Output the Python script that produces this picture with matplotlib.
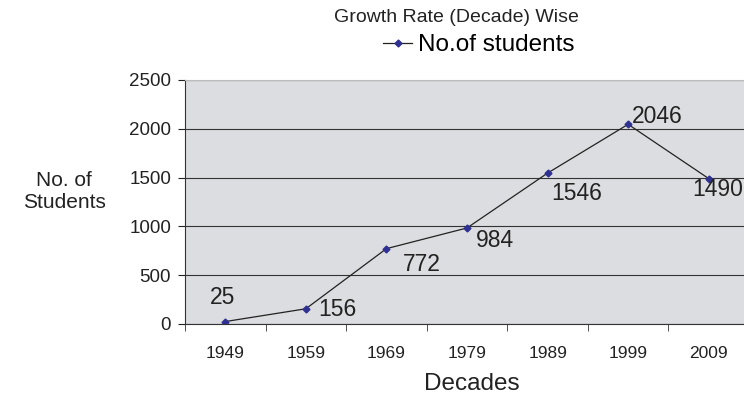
import matplotlib.pyplot as plt
import numpy as np

plt.rcParams['font.family'] = ['Liberation Sans', 'DejaVu Sans']

decades = ['1949', '1959', '1969', '1979', '1989', '1999', '2009']
students = [25, 156, 772, 984, 1546, 2046, 1490]

# label offsets in pixels (dx, dy) and horizontal alignment
label_pos = [(-3, 24, 'center'), (12, -1, 'left'), (16, -16, 'left'), (9, -13, 'left'),
             (4, -20, 'left'), (4, 8, 'left'), (-16, -11, 'left')]

fig = plt.figure(figsize=(7.44, 3.98), dpi=100)
ax = fig.add_axes([185 / 744, 74 / 398, 564 / 744, 244 / 398])
ax.set_facecolor('#DCDDE0')

x = np.arange(len(decades))
line, = ax.plot(x, students, color='#222222', linewidth=0.9, marker='D', markersize=3.5,
                markerfacecolor='#2E3192', markeredgecolor='#2E3192', label='No.of students')

for xi, v, (dx, dy, ha) in zip(x, students, label_pos):
    ax.annotate(str(v), (xi, v), xytext=(dx, dy), textcoords='offset pixels',
                ha=ha, va='center', fontsize=16.5, color='#222222', annotation_clip=False)

ax.set_xlim(-0.5, len(decades) - 0.5)
ax.set_ylim(0, 2500)
ax.set_yticks(np.arange(0, 2501, 500))
ax.yaxis.grid(True, color='#333333', linewidth=0.8)
ax.set_axisbelow(True)

ax.set_xticks(x)
ax.set_xticklabels(decades)
ax.set_xticks(np.arange(-0.5, len(decades)), minor=True)
ax.tick_params(axis='x', which='major', length=0, pad=16, labelsize=12.5, colors='#222222')
ax.tick_params(axis='x', which='minor', length=5, direction='out', color='#333333')
ax.tick_params(axis='y', length=5, direction='out', labelsize=13.5, pad=5, colors='#222222')

for s in ['top', 'right']:
    ax.spines[s].set_color('#BBBBBB')
ax.spines['left'].set_color('#333333')
ax.spines['bottom'].set_color('#333333')

fig.text(472 / 744, 1 - 384 / 398, 'Decades', ha='center', va='center',
         fontsize=17.5, color='#222222')
fig.text(64 / 744, 1 - 191 / 398, 'No. of\nStudents', ha='center', va='center',
         fontsize=15, color='#222222', linespacing=1.2)

fig.text(456 / 744, 1 - 18 / 398, 'Growth Rate (Decade) Wise', ha='center', va='center',
         fontsize=14, color='#222222')
fig.legend(handles=[line], loc='center', bbox_to_anchor=(479 / 744, 1 - 45 / 398),
           frameon=False, fontsize=17.5, handlelength=1.2, handletextpad=0.25,
           borderpad=0, borderaxespad=0)

fig.savefig('out.png', dpi=100)
